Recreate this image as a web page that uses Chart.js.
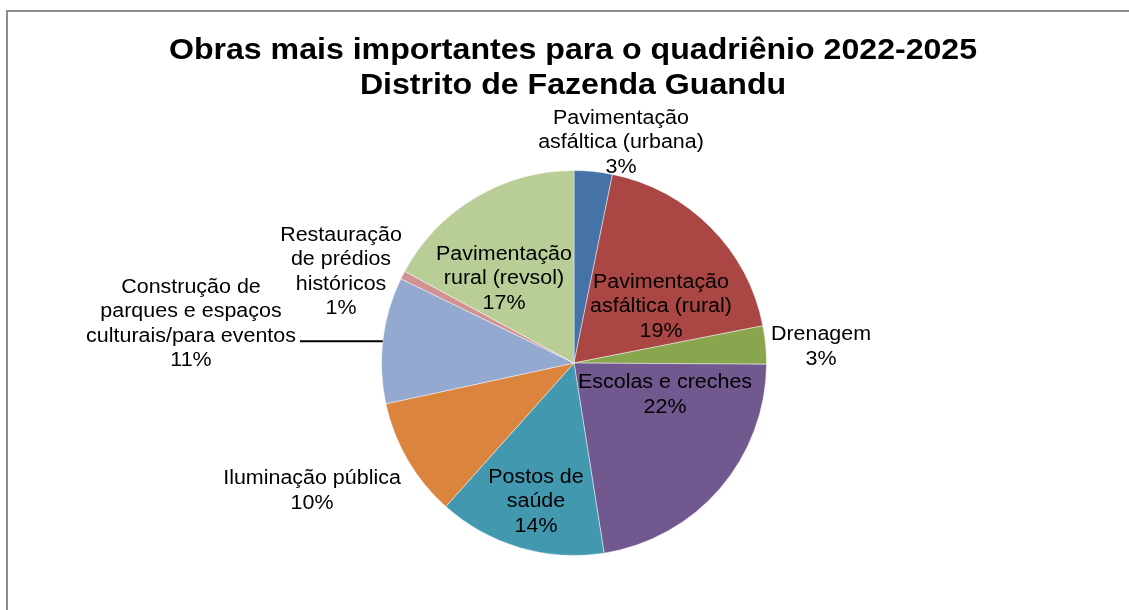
<!DOCTYPE html>
<html>
<head>
<meta charset="utf-8">
<script src="https://cdn.jsdelivr.net/npm/chart.js@4.4.0/dist/chart.umd.min.js"></script>
<style>
  html, body { margin: 0; padding: 0; background: #fff; }
  canvas { display: block; }
</style>
</head>
<body>
<canvas id="pieChart" width="1129" height="610"></canvas>
<script>
const titleLines = ['Obras mais importantes para o quadriênio 2022-2025', 'Distrito de Fazenda Guandu'];

const categories = [
  ['Pavimentação', 'asfáltica (urbana)'],
  ['Pavimentação', 'asfáltica (rural)'],
  ['Drenagem'],
  ['Escolas e creches'],
  ['Postos de', 'saúde'],
  ['Iluminação pública'],
  ['Construção de', 'parques e espaços', 'culturais/para eventos'],
  ['Restauração', 'de prédios', 'históricos'],
  ['Pavimentação', 'rural (revsol)']
];
const shares = [3.2, 18.7, 3.2, 22.4, 14.1, 10.0, 10.6, 0.7, 17.1];

const sliceColors = ['#4572A7', '#AA4643', '#89A54E', '#71588F', '#4198AF', '#DB843D', '#93A9CF', '#D19392', '#B9CD96'];
// label block centre, offset from the pie centre (px)
const labelOffsets = [[47, -220], [87, -56], [247, -16], [91, 32], [-38, 139], [-262, 128], [-383, -39], [-233, -91], [-70, -84]];
const leaderSlice = 6;

const FONT = '"Liberation Sans", Arial, sans-serif';
const LINE_H = 24.3;
const STRETCH = 1.1;

function stretchedText(c, text, x, y, sx) {
  c.save();
  c.translate(x, y);
  c.scale(sx, 1);
  c.fillText(text, 0, 0);
  c.restore();
}

const labelPlugin = {
  id: 'sliceLabels',
  beforeDraw(chart) {
    const c = chart.ctx;
    c.save();
    c.strokeStyle = '#8c8c8c';
    c.lineWidth = 2;
    c.strokeRect(7, 11, 1400, 900);
    c.restore();
  },
  afterDraw(chart) {
    const c = chart.ctx;
    const arcs = chart.getDatasetMeta(0).data;
    const total = shares.reduce((a, b) => a + b, 0);
    c.save();
    c.fillStyle = '#000';
    c.textAlign = 'center';
    c.textBaseline = 'middle';

    c.font = 'bold 30px ' + FONT;
    titleLines.forEach((t, i) => stretchedText(c, t, 573, 51 + i * 35, 1.07));

    c.font = '19.5px ' + FONT;
    arcs.forEach((arc, i) => {
      const lines = categories[i].concat([Math.round(shares[i] / total * 100) + '%']);
      const cx = arc.x + labelOffsets[i][0];
      const cy = arc.y + labelOffsets[i][1];
      const top = cy - (lines.length - 1) * LINE_H / 2;
      lines.forEach((l, j) => stretchedText(c, l, cx, top + j * LINE_H, STRETCH));
      if (i === leaderSlice) {
        const ly = top + 2 * LINE_H + 5;
        const w = c.measureText(lines[2]).width * STRETCH;
        const x0 = cx + w / 2 + 4;
        const x1 = arc.x - Math.sqrt(arc.outerRadius * arc.outerRadius - (ly - arc.y) * (ly - arc.y));
        c.strokeStyle = '#000';
        c.lineWidth = 2;
        c.beginPath();
        c.moveTo(x0, ly);
        c.lineTo(x1, ly);
        c.stroke();
      }
    });
    c.restore();
  }
};

const ctx = document.getElementById('pieChart').getContext('2d');
const pieChart = new Chart(ctx, {
  type: 'pie',
  data: {
    labels: categories.map(l => l.join(' ')),
    datasets: [{
      data: shares,
      backgroundColor: sliceColors,
      borderColor: 'rgba(255,255,255,0.45)',
      borderWidth: 1
    }]
  },
  options: {
    responsive: false,
    animation: false,
    layout: { padding: { top: 170, bottom: 54, left: 381, right: 362 } },
    plugins: {
      legend: { display: false },
      title: { display: false },
      tooltip: { enabled: false }
    }
  },
  plugins: [labelPlugin]
});
</script>
</body>
</html>
